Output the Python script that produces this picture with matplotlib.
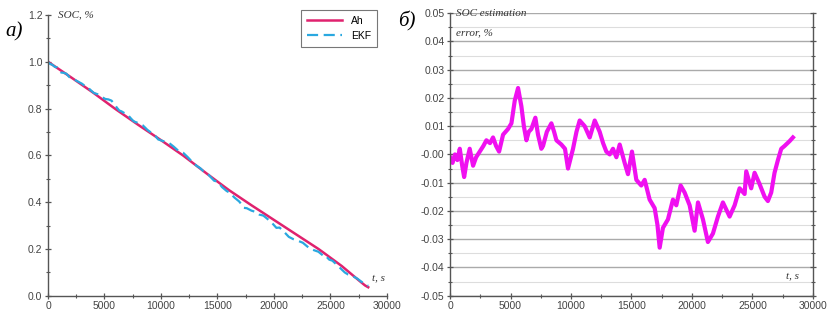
import numpy as np
import matplotlib
matplotlib.use("Agg")
import matplotlib.pyplot as plt
from matplotlib.ticker import MultipleLocator

# Ah-counting SOC, read off panel a)
ah_t = [0, 2000, 4000, 6000, 8000, 10000, 12000, 14000, 16000, 18000,
        20000, 22000, 24000, 26000, 28000, 28300]
ah_v = [1.000, 0.935, 0.868, 0.797, 0.730, 0.665, 0.598, 0.524, 0.452, 0.387,
        0.324, 0.261, 0.198, 0.127, 0.046, 0.036]

# SOC estimation error (EKF - Ah), read off panel b)
err_t = [0, 200, 400, 600, 800, 1000, 1160, 1350, 1620, 1900, 2150, 2450, 2750,
         3000, 3300, 3550, 3800, 4050, 4380, 4790, 5070, 5345, 5620, 5895, 6100,
         6310, 6500, 6720, 7050, 7270, 7545, 7685, 8000, 8375, 8600, 8790, 9200,
         9500, 9750, 10165, 10450, 10715, 11130, 11545, 11960, 12370, 12650,
         12920, 13200, 13470, 13750, 14025, 14435, 14710, 15040, 15400, 15810,
         16090, 16500, 16915, 17150, 17330, 17600, 18015, 18430, 18705, 19065,
         19395, 19810, 20220, 20500, 20910, 21320, 21735, 22150, 22560, 23115,
         23530, 23940, 24355, 24490, 24900, 25180, 25595, 26010, 26280, 26555,
         26830, 27110, 27385, 27660, 28075, 28350]
err_v = [-0.001, -0.003, 0.000, -0.002, 0.002, -0.004, -0.008, -0.003, 0.002,
         -0.004, -0.001, 0.001, 0.003, 0.005, 0.004, 0.006, 0.003, 0.001, 0.007,
         0.009, 0.011, 0.019, 0.0235, 0.017, 0.010, 0.005, 0.008, 0.009, 0.013,
         0.007, 0.002, 0.003, 0.008, 0.011, 0.008, 0.005, 0.0035, 0.002, -0.005,
         0.002, 0.008, 0.012, 0.010, 0.006, 0.012, 0.008, 0.004, 0.001, 0.000,
         0.002, -0.001, 0.0035, -0.003, -0.007, 0.001, -0.009, -0.011, -0.009,
         -0.016, -0.019, -0.025, -0.033, -0.026, -0.023, -0.016, -0.018, -0.011,
         -0.0135, -0.018, -0.027, -0.017, -0.023, -0.031, -0.028, -0.022, -0.017,
         -0.022, -0.018, -0.012, -0.014, -0.006, -0.012, -0.0065, -0.0105, -0.015,
         -0.0165, -0.0135, -0.0065, -0.002, 0.002, 0.003, 0.0047, 0.006]

ah_on_err = np.interp(err_t, ah_t, ah_v)
ekf_v = ah_on_err + np.array(err_v)

serif = ['Liberation Serif', 'DejaVu Serif']
plt.rcParams['font.family'] = ['Liberation Sans', 'DejaVu Sans']
plt.rcParams['font.size'] = 7.5

fig = plt.figure(figsize=(8.32, 3.13), dpi=100)
ax1 = fig.add_axes([0.0577, 0.0553, 0.4073, 0.8967])
ax2 = fig.add_axes([0.541, 0.0553, 0.436, 0.9027])

tick_col = '#444444'

# panel a)
ax1.plot(err_t, ah_on_err, color='#e0226e', lw=1.8, label='Ah')
ax1.plot(err_t, ekf_v, color='#2aa8e0', lw=1.6, ls=(0, (5, 2.5)), label='EKF')
ax1.set_xlim(0, 30000)
ax1.set_ylim(0, 1.2)
ax1.xaxis.set_major_locator(MultipleLocator(5000))
ax1.xaxis.set_minor_locator(MultipleLocator(2500))
ax1.yaxis.set_major_locator(MultipleLocator(0.2))
ax1.yaxis.set_minor_locator(MultipleLocator(0.1))
ax1.yaxis.set_major_formatter(plt.FormatStrFormatter('%.1f'))
for s in ['top', 'right']:
    ax1.spines[s].set_visible(False)
leg = ax1.legend(loc='upper right', bbox_to_anchor=(0.985, 1.035), fontsize=7.5,
                 handlelength=3.4, fancybox=False, edgecolor='#777777',
                 framealpha=1, borderpad=0.55, labelspacing=0.45)
leg.get_frame().set_linewidth(0.8)
ax1.text(0.03, 1.0, 'SOC, %', transform=ax1.transAxes, family=serif,
         style='italic', fontsize=8, color='#333333', va='center')
ax1.text(0.955, 0.055, 't, s', transform=ax1.transAxes, family=serif,
         style='italic', fontsize=8, color='#333333')
fig.text(0.006, 0.885, 'а)', family=serif, style='italic', fontsize=15)

# panel b)
ax2.plot(err_t, err_v, color='#f010f0', lw=3.0)
ax2.set_xlim(0, 30000)
ax2.set_ylim(-0.05, 0.05)
ax2.xaxis.set_major_locator(MultipleLocator(5000))
ax2.xaxis.set_minor_locator(MultipleLocator(2500))
ax2.yaxis.set_major_locator(MultipleLocator(0.01))
ax2.yaxis.set_minor_locator(MultipleLocator(0.005))
ax2.yaxis.set_major_formatter(plt.FormatStrFormatter('%.2f'))
ax2.grid(True, which='major', axis='y', color='#aaaaaa', lw=1.0)
ax2.grid(True, which='minor', axis='y', color='#dddddd', lw=0.8)
ax2.set_axisbelow(True)
ax2.spines['top'].set_visible(False)
ax2.yaxis.set_ticks_position('both')
ax2.text(0.015, 1.0, 'SOC estimation', transform=ax2.transAxes, family=serif,
         style='italic', fontsize=8, color='#333333', va='center')
ax2.text(0.015, 0.93, 'error, %', transform=ax2.transAxes, family=serif,
         style='italic', fontsize=8, color='#333333', va='center')
ax2.text(0.925, 0.06, 't, s', transform=ax2.transAxes, family=serif,
         style='italic', fontsize=8, color='#333333')
fig.text(0.478, 0.915, 'б)', family=serif, style='italic', fontsize=15)

for ax in (ax1, ax2):
    for s in ax.spines.values():
        s.set_color('#555555')
        s.set_linewidth(1.0)
    ax.tick_params(which='major', direction='inout', length=5, width=0.9,
                   colors='#555555', labelcolor=tick_col, pad=1.5)
    ax.tick_params(which='minor', direction='inout', length=3, width=0.8,
                   colors='#555555')

fig.savefig('out.png', dpi=100)
